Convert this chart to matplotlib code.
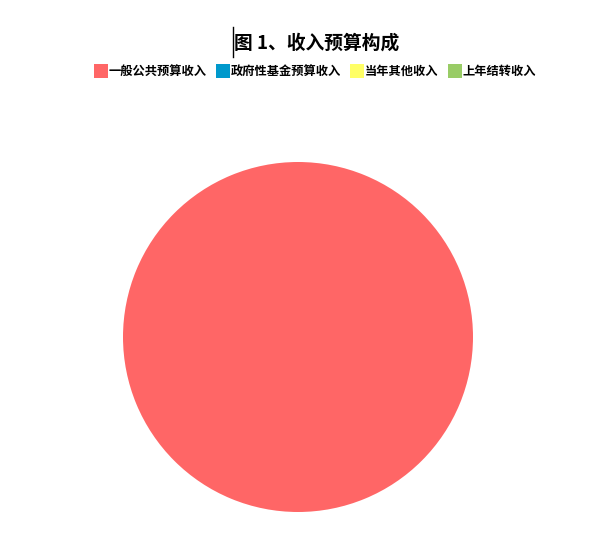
import matplotlib
matplotlib.use('Agg')
import matplotlib.pyplot as plt
from matplotlib.patches import Patch

plt.rcParams['font.family'] = ['Noto Sans CJK SC', 'DejaVu Sans']

## Data: the whole pie belongs to the first category
title = '图 1、收入预算构成'
categories = ['一般公共预算收入', '政府性基金预算收入', '当年其他收入', '上年结转收入']
values = [100, 0, 0, 0]
colours = ['#FF6666', '#0099CC', '#FFFF66', '#99CC66']

fig = plt.figure(figsize=(6, 5.6), dpi=100)

## Pie axes: circle centred around (298, 337) px with radius ~175 px
ax = fig.add_axes([123 / 600, 48 / 560, 350 / 600, 350 / 560])
wedges, _ = ax.pie(values, colors=colours, startangle=90, counterclock=False,
                   radius=1, wedgeprops=dict(linewidth=0))
ax.set_xlim(-1, 1)
ax.set_ylim(-1, 1)
ax.set_aspect('auto')
ax.axis('off')

## Title with the stray text cursor in front of it
fig.text(0.527, 1 - 43 / 560, title, ha='center', va='center',
         fontsize=13.5, fontweight='bold')
fig.add_artist(plt.Line2D([233 / 600, 233 / 600], [1 - 27 / 560, 1 - 57 / 560],
                          color='black', linewidth=1))

## Legend
handles = [Patch(facecolor=c, edgecolor='none') for c in colours]
leg = fig.legend(handles, categories, loc='center', ncol=4,
                 bbox_to_anchor=(0.525, 1 - 71 / 560), frameon=False,
                 handlelength=1.15, handleheight=1.5, handletextpad=0.05,
                 columnspacing=0.75, prop=dict(size=8.8, weight='bold'))

fig.savefig('out.png', dpi=100)
